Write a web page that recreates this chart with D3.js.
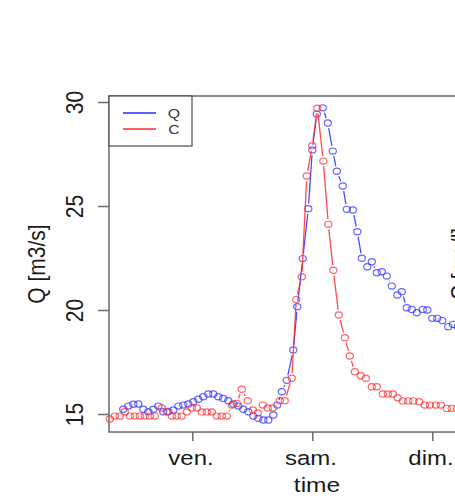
<!DOCTYPE html>
<html>
<head>
<meta charset="utf-8">
<script src="https://cdn.jsdelivr.net/npm/d3@7"></script>
<style>
  html, body { margin: 0; padding: 0; background: #fff; }
  svg { display: block; font-family: "Liberation Sans", Arial, sans-serif; }
</style>
</head>
<body>
<div id="chart"></div>
<script>
// ---- data (hours counted from Thursday 00:00) ----
const qHours = [10.2, 11.2, 12.2, 13.2, 14.2, 15.2, 16.2, 17.2, 18.2, 19.2,
  20.2, 21.2, 22.2, 23.2, 24.2, 25.2, 26.2, 27.2, 28.2, 29.2,
  30.2, 31.2, 32.2, 33.2, 34.2, 35.2, 36.2, 37.2, 38.2, 39.2,
  40.2, 41.0, 41.9, 42.9, 44.2, 45.0, 46.1, 47.2, 48.0, 48.9,
  50.1, 51.1, 52.1, 52.9, 54.1, 54.9, 56.1, 57.0, 57.9, 59.0,
  59.9, 60.9, 61.9, 62.9, 63.9, 65.0, 65.9, 66.9, 67.9, 68.9,
  70.1, 71.0, 72.0, 73.0, 74.0, 75.2, 76.1, 77.1];
const qValues = [15.23, 15.38, 15.47, 15.48, 15.23, 15.11, 15.23, 15.38, 15.11, 15.11,
  15.19, 15.38, 15.43, 15.48, 15.59, 15.71, 15.83, 15.96, 15.96, 15.83,
  15.75, 15.64, 15.48, 15.38, 15.23, 15.11, 14.90, 14.79, 14.71, 14.71,
  14.95, 15.43, 16.07, 16.62, 18.08, 20.16, 22.47, 24.87, 27.69, 29.42,
  29.72, 28.99, 27.64, 26.67, 25.96, 24.84, 24.81, 23.76, 22.49, 22.08,
  22.32, 21.79, 21.84, 21.63, 21.15, 20.72, 20.88, 20.11, 20.03, 19.87,
  20.03, 20.00, 19.60, 19.60, 19.49, 19.20, 19.31, 19.20];

const cHours = [7.5, 8.5, 9.5, 10.5, 11.5, 12.5, 13.5, 14.5, 15.5, 16.5,
  17.9, 18.9, 19.9, 20.9, 21.9, 22.9, 23.9, 24.9, 25.9, 26.9,
  27.9, 28.9, 29.9, 30.9, 31.9, 32.9, 33.9, 35.1, 36.1, 37.1,
  38.1, 39.1, 40.1, 41.5, 42.5, 43.9, 44.8, 45.9, 46.9, 48.0,
  49.0, 50.2, 51.2, 52.2, 53.3, 54.5, 55.5, 56.5, 57.7, 58.7,
  59.9, 60.9, 62.1, 63.1, 64.1, 65.1, 66.1, 67.2, 68.2, 69.4,
  70.5, 71.5, 72.7, 73.7, 74.9, 75.9, 77.0];
const cValues = [14.76, 14.90, 14.90, 15.11, 14.90, 14.90, 14.90, 14.90, 14.90, 14.90,
  15.29, 15.10, 14.90, 14.90, 14.90, 15.10, 15.29, 15.29, 15.10, 15.10,
  15.10, 14.90, 14.90, 14.90, 15.43, 15.51, 16.19, 15.64, 15.19, 15.05,
  15.43, 15.29, 15.29, 15.64, 15.64, 16.72, 20.51, 21.60, 26.44, 27.90,
  29.70, 27.16, 24.12, 21.91, 19.76, 18.67, 17.79, 17.03, 16.84, 16.72,
  16.31, 16.31, 15.96, 15.96, 15.96, 15.78, 15.63, 15.63, 15.63, 15.59,
  15.43, 15.43, 15.43, 15.43, 15.27, 15.27, 15.27];

const dayTicks = [24, 48, 72];
const dayLabels = ["ven.", "sam.", "dim."];
const yTicks = [15, 20, 25, 30];
const seriesNames = ["Q", "C"];
const seriesColors = ["#2a2aff", "#ff2a2a"];
const xTitle = "time";
const yTitle = "Q [m3/s]";
const y2Title = "C [mg/l]";

// ---- layout ----
const W = 455, H = 500;
const plot = { left: 109, right: 560, top: 96, bottom: 432 };
const SX = 1.17; // horizontal stretch of the glyphs

const svg = d3.select("#chart").append("svg")
  .attr("width", W).attr("height", H);

const x = d3.scaleLinear().domain([7.34, 97.54]).range([plot.left, plot.right]);
const y = d3.scaleLinear().domain([15, 30]).range([414, 102]);

// box
svg.append("rect")
  .attr("x", plot.left).attr("y", plot.top)
  .attr("width", plot.right - plot.left).attr("height", plot.bottom - plot.top)
  .attr("fill", "none").attr("stroke", "#6a6a6a").attr("stroke-width", 1.5);

// x axis
const gx = svg.append("g").attr("transform", `translate(0,${plot.bottom})`)
  .call(d3.axisBottom(x).tickValues(dayTicks).tickSize(9)
    .tickFormat((d, i) => dayLabels[i]));
gx.select(".domain").remove();
gx.selectAll(".tick line").attr("stroke", "#6a6a6a").attr("stroke-width", 1.5);
gx.selectAll(".tick text")
  .attr("y", 0).attr("dy", 0)
  .attr("transform", `translate(-1.8,33) scale(${SX},1)`)
  .attr("font-size", 20.5).attr("fill", "#1a1a1a")
  .attr("font-family", "Liberation Sans, Arial, sans-serif");

// y axis
const gy = svg.append("g").attr("transform", `translate(${plot.left},0)`)
  .call(d3.axisLeft(y).tickValues(yTicks).tickSize(11).tickFormat(d3.format("d")));
gy.select(".domain").remove();
gy.selectAll(".tick line").attr("stroke", "#6a6a6a").attr("stroke-width", 1.5);
gy.selectAll(".tick text")
  .attr("x", 0).attr("y", 0).attr("dy", 0)
  .attr("text-anchor", "middle")
  .attr("transform", `translate(-26,0) scale(${SX},1) rotate(-90)`)
  .attr("font-size", 21).attr("fill", "#1a1a1a")
  .attr("font-family", "Liberation Sans, Arial, sans-serif");

// axis titles
svg.append("text")
  .attr("transform", `translate(317,492) scale(${SX},1)`)
  .attr("text-anchor", "middle").attr("font-size", 21).attr("fill", "#1a1a1a")
  .text(xTitle);
svg.append("text")
  .attr("transform", `translate(45,264) scale(${SX},1) rotate(-90)`)
  .attr("text-anchor", "middle").attr("font-size", 21).attr("fill", "#1a1a1a")
  .text(yTitle);
svg.append("text")
  .attr("transform", `translate(468,264) scale(${SX},1) rotate(-90)`)
  .attr("text-anchor", "middle").attr("font-size", 21).attr("fill", "#1a1a1a")
  .text(y2Title);

// series drawn as R type="b": points with gapped segments
function drawSeries(hours, values, color) {
  const pts = hours.map((h, i) => [x(h), y(values[i])]);
  const g = svg.append("g");
  const gap = 5.2;
  const segs = [];
  for (let i = 0; i < pts.length - 1; i++) {
    const [x1, y1] = pts[i], [x2, y2] = pts[i + 1];
    const dx = x2 - x1, dy = y2 - y1, L = Math.hypot(dx, dy);
    if (L > 2 * gap + 0.5) {
      const ux = dx / L, uy = dy / L;
      segs.push([x1 + ux * gap, y1 + uy * gap, x2 - ux * gap, y2 - uy * gap]);
    }
  }
  g.selectAll("line").data(segs).join("line")
    .attr("x1", d => d[0]).attr("y1", d => d[1])
    .attr("x2", d => d[2]).attr("y2", d => d[3])
    .attr("stroke", color).attr("stroke-width", 1.3).attr("stroke-opacity", 0.85);
  g.selectAll("ellipse").data(pts).join("ellipse")
    .attr("cx", d => d[0]).attr("cy", d => d[1])
    .attr("rx", 3.6).attr("ry", 3.1)
    .attr("fill", "none").attr("stroke", color)
    .attr("stroke-width", 1.15).attr("stroke-opacity", 0.72);
}
drawSeries(qHours, qValues, seriesColors[0]);
drawSeries(cHours, cValues, seriesColors[1]);

// legend
const lg = svg.append("g");
lg.append("rect").attr("x", plot.left).attr("y", plot.top)
  .attr("width", 83).attr("height", 50)
  .attr("fill", "#fff").attr("stroke", "#4a4a4a").attr("stroke-width", 1.2);
seriesNames.forEach((name, i) => {
  const ly = 113 + i * 16;
  lg.append("line").attr("x1", 123).attr("x2", 156).attr("y1", ly).attr("y2", ly)
    .attr("stroke", seriesColors[i]).attr("stroke-width", 1.6);
  lg.append("text")
    .attr("transform", `translate(174,${ly + 5}) scale(${SX},1)`)
    .attr("text-anchor", "middle").attr("font-size", 13.5).attr("fill", "#333")
    .text(name);
});
</script>
</body>
</html>
